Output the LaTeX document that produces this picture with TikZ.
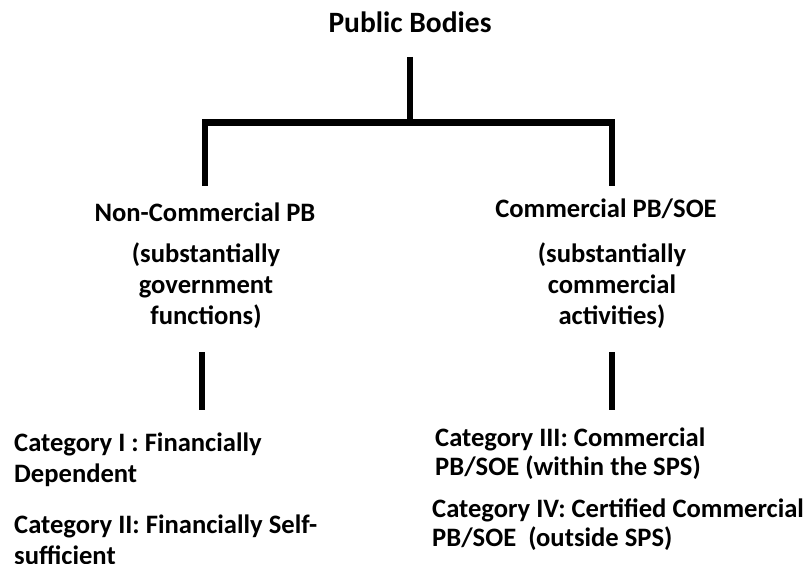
\documentclass[tikz,border=0pt]{standalone}
\usepackage{fontspec}
\setmainfont{Carlito}
\begin{document}
\begin{tikzpicture}[x=1pt,y=-1pt,
  % multi-line nodes are placed by the baseline of their last line
  lbl/.style={font=\bfseries\fontsize{26.6}{31}\selectfont, inner sep=0pt, anchor=base, align=center},
  lbll/.style={lbl, anchor=base west, align=left},
  tight/.style={font=\bfseries\fontsize{26.6}{29}\selectfont},
  bar/.style={line width=6.5pt, line join=miter},
]
\useasboundingbox (0,0) rectangle (809,564);

% level 0
\node[lbl, font=\bfseries\fontsize{29.5}{34}\selectfont] (root) at (410,33) {Public Bodies};

% level 1 headings
\node[lbl] (ncpb) at (205,222) {Non-Commercial PB};
\node[lbl] (ncsub) at (206,324) {(substantially\\government\\functions)};
\node[lbl] (cpb) at (606,218) {Commercial PB/SOE};
\node[lbl] (csub) at (612,324) {(substantially\\commercial\\activities)};

% level 2 categories
\node[lbll] (cat1) at (14,482) {Category I : Financially\\Dependent};
\node[lbll] (cat2) at (14,564) {Category II: Financially Self-\\sufficient};
\node[lbll, tight] (cat3) at (435,475) {Category III: Commercial\\PB/SOE (within the SPS)};
\node[lbll, tight] (cat4) at (432,546) {Category IV: Certified Commercial\\PB/SOE\ \ (outside SPS)};

% connector ends
\coordinate (rootfoot) at (410,57);
\coordinate (hub) at (410,122.5);
\coordinate (lfoot) at (205,186);
\coordinate (rfoot) at (612,186);
\coordinate (ltop) at (202,352);
\coordinate (lbot) at (202,410);
\coordinate (rtop) at (612,352);
\coordinate (rbot) at (612,410);

% tree lines
\draw[bar] (rootfoot) -- (hub);
\draw[bar] (lfoot) -- (lfoot |- hub) -- (rfoot |- hub) -- (rfoot);
\draw[bar] (ltop) -- (lbot);
\draw[bar] (rtop) -- (rbot);
\end{tikzpicture}
\end{document}
